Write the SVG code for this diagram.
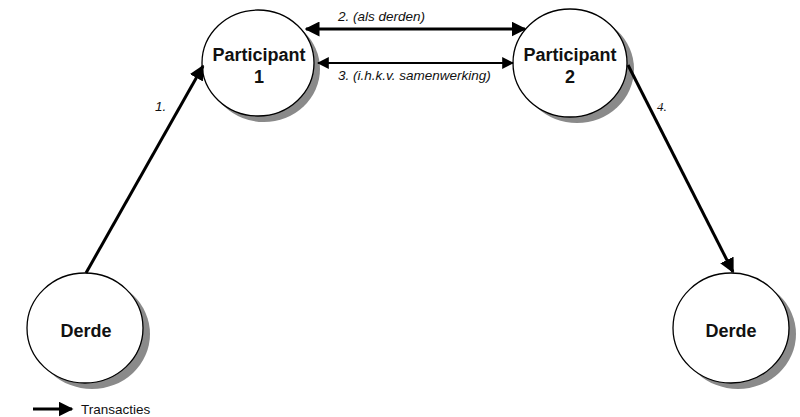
<svg xmlns="http://www.w3.org/2000/svg" width="800" height="417" viewBox="0 0 800 417">
<defs>
<marker id="ah" viewBox="0 0 10 10" refX="9" refY="5" markerWidth="5" markerHeight="5" orient="auto-start-reverse" markerUnits="strokeWidth">
<path d="M0,0 L10,5 L0,10 z" fill="#000"/>
</marker>
<marker id="ah2" viewBox="0 0 10 10" refX="9" refY="5" markerWidth="6" markerHeight="6" orient="auto-start-reverse" markerUnits="strokeWidth">
<path d="M0,0 L10,5 L0,10 z" fill="#000"/>
</marker>
</defs>
<style>
.sh{fill:#8a8a8a}
.nd{fill:#fff;stroke:#000;stroke-width:1.3}
.nt{font-family:"Liberation Sans",Arial,sans-serif;font-weight:bold;font-size:18px;text-anchor:middle;fill:#111}
.lb{font-family:"Liberation Sans",Arial,sans-serif;font-style:italic;font-size:13.5px;fill:#111}
.cn{stroke:#000;fill:none}
</style>
<rect width="800" height="417" fill="#fff"/>
<g id="p1">
<ellipse class="sh" cx="264" cy="69" rx="56" ry="53"/>
<ellipse class="nd" cx="258" cy="63" rx="56" ry="53"/>
<text class="nt" x="259" y="61">Participant</text>
<text class="nt" x="259" y="83">1</text>
</g>
<g id="p2">
<ellipse class="sh" cx="577" cy="69" rx="57" ry="54"/>
<ellipse class="nd" cx="570" cy="63" rx="57" ry="54"/>
<text class="nt" x="570" y="61">Participant</text>
<text class="nt" x="570" y="83">2</text>
</g>
<g id="d1">
<ellipse class="sh" cx="92" cy="334" rx="58" ry="55"/>
<ellipse class="nd" cx="85" cy="328" rx="58" ry="55"/>
<text class="nt" x="86" y="337">Derde</text>
</g>
<g id="d2">
<ellipse class="sh" cx="738" cy="334" rx="58" ry="55"/>
<ellipse class="nd" cx="731" cy="328" rx="58" ry="55"/>
<text class="nt" x="731" y="337">Derde</text>
</g>
<g id="connectors">
<line class="cn" x1="306" y1="29" x2="525" y2="29" stroke-width="3" marker-start="url(#ah)" marker-end="url(#ah)"/>
<line class="cn" x1="318" y1="63" x2="513" y2="63" stroke-width="2" marker-start="url(#ah2)" marker-end="url(#ah2)"/>
<line class="cn" x1="86" y1="273" x2="203" y2="66" stroke-width="3" marker-end="url(#ah)"/>
<line class="cn" x1="628" y1="65" x2="733" y2="272" stroke-width="3" marker-end="url(#ah)"/>
<text class="lb" x="338" y="21">2. (als derden)</text>
<text class="lb" x="338" y="80">3. (i.h.k.v. samenwerking)</text>
<text class="lb" x="155" y="111">1.</text>
<text x="657" y="111" font-family="'Liberation Serif',serif" font-style="italic" font-size="13" fill="#111">4.</text>
</g>
<g id="legend">
<line class="cn" x1="33" y1="409" x2="72" y2="409" stroke-width="3" marker-end="url(#ah)"/>
<text x="81" y="414" font-family="'Liberation Sans',Arial,sans-serif" font-size="13.5" fill="#111">Transacties</text>
</g>
</svg>
